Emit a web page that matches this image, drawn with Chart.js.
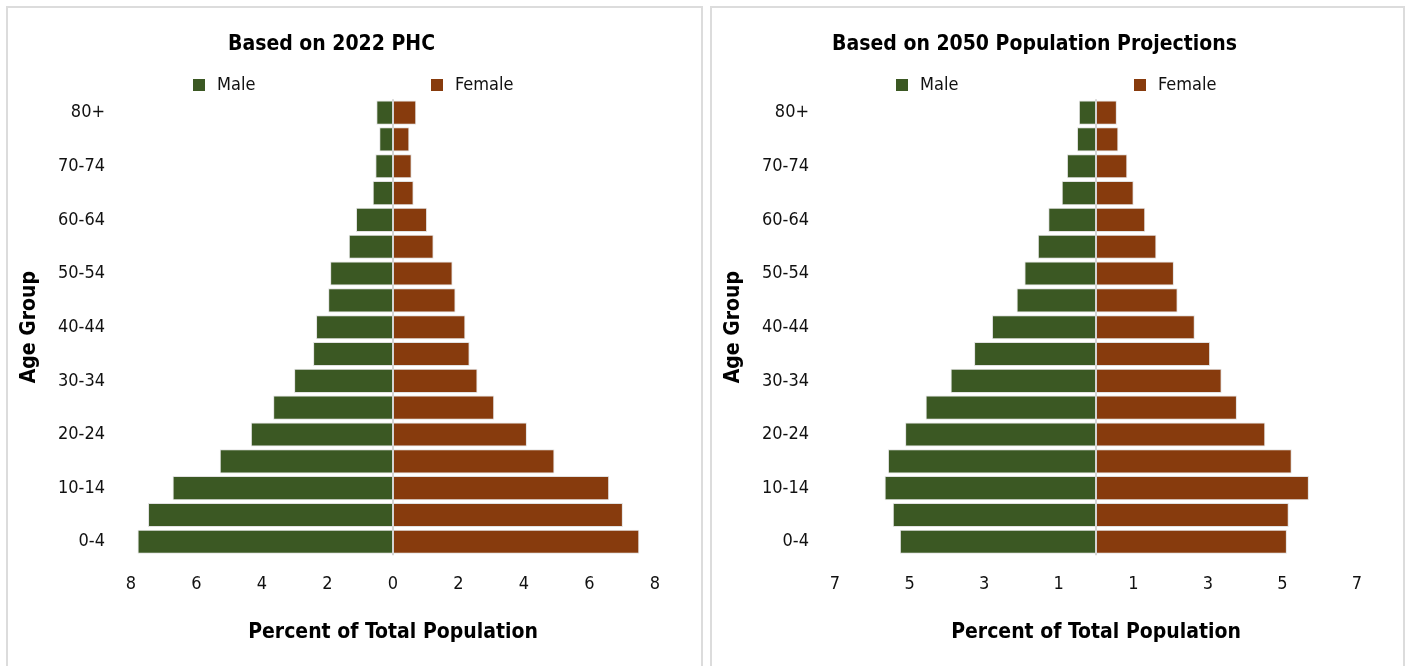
<!DOCTYPE html>
<html lang="en">

<head>
    <meta charset="UTF-8">
    <title>Population Pyramids</title>
    <script src="https://cdn.jsdelivr.net/npm/chart.js"></script>
    <style>
        body { margin: 0; width: 1406px; height: 666px; overflow: hidden; background: #fff; position: relative; }
        .panel { position: absolute; top: 6px; height: 700px; border: 2px solid #dcdcdc; box-sizing: border-box; }
        .panel canvas { display: block; }
    </style>
</head>

<body>

    <div class="panel" style="left: 6px; width: 697px;">
        <canvas id="chart2022" width="693" height="658"></canvas>
    </div>
    <div class="panel" style="left: 710px; width: 695px;">
        <canvas id="chart2050" width="691" height="658"></canvas>
    </div>

    <script>
        // age groups, bottom to top
        const ageGroups = ['0-4', '5-9', '10-14', '15-19', '20-24', '25-29', '30-34', '35-39', '40-44',
            '45-49', '50-54', '55-59', '60-64', '65-69', '70-74', '75-79', '80+'];

        // percent of total population, 2022 PHC
        const male2022 = [7.80, 7.48, 6.73, 5.29, 4.34, 3.66, 3.02, 2.44, 2.35, 1.98, 1.92, 1.35, 1.13, 0.62, 0.54, 0.42, 0.51];
        const female2022 = [7.52, 7.02, 6.60, 4.93, 4.09, 3.09, 2.58, 2.34, 2.21, 1.91, 1.82, 1.24, 1.04, 0.63, 0.57, 0.50, 0.71];

        // percent of total population, 2050 projections
        const male2050 = [5.26, 5.45, 5.67, 5.58, 5.12, 4.57, 3.90, 3.27, 2.79, 2.13, 1.92, 1.56, 1.28, 0.92, 0.78, 0.51, 0.46];
        const female2050 = [5.12, 5.17, 5.71, 5.25, 4.54, 3.78, 3.37, 3.06, 2.65, 2.19, 2.09, 1.62, 1.32, 1.01, 0.84, 0.60, 0.56];

        const seriesNames = ['Male', 'Female'];
        const seriesColors = ['#3B5823', '#873B0D'];

        const FONT = "'Liberation Sans Narrow', 'Arial Narrow', 'DejaVu Sans Condensed', 'Liberation Sans', Arial, sans-serif";
        Chart.defaults.font.family = FONT;
        Chart.defaults.color = '#111';

        // light line at zero + spread-out legend
        const pyramidExtras = {
            id: 'pyramidExtras',
            afterDatasetsDraw(chart) {
                const { ctx, chartArea, scales } = chart;
                const x0 = scales.x.getPixelForValue(0);
                ctx.save();
                ctx.strokeStyle = '#d4d4d4';
                ctx.lineWidth = 2;
                ctx.beginPath();
                ctx.moveTo(x0, chartArea.top);
                ctx.lineTo(x0, chartArea.bottom);
                ctx.stroke();
                ctx.restore();
            },
            afterDraw(chart) {
                const { ctx, width, chartArea } = chart;
                const y = chartArea.top - 14;
                const spots = [0.267, 0.611];
                ctx.save();
                ctx.font = '18px ' + FONT;
                ctx.textBaseline = 'middle';
                seriesNames.forEach((name, i) => {
                    const bx = Math.round(width * spots[i]);
                    ctx.fillStyle = seriesColors[i];
                    ctx.fillRect(bx, Math.round(y - 6), 12, 12);
                    ctx.fillStyle = '#111';
                    ctx.fillText(name, bx + 24, y);
                });
                ctx.restore();
            }
        };

        function makePyramid(canvasId, titleText, male, female, limit) {
            return new Chart(document.getElementById(canvasId), {
                type: 'bar',
                data: {
                    labels: ageGroups,
                    datasets: [{
                        label: seriesNames[0],
                        data: male.map(v => -v),
                        backgroundColor: seriesColors[0],
                        borderColor: '#e2e2e2',
                        borderWidth: 1
                    }, {
                        label: seriesNames[1],
                        data: female,
                        backgroundColor: seriesColors[1],
                        borderColor: '#e2e2e2',
                        borderWidth: 1
                    }]
                },
                options: {
                    indexAxis: 'y',
                    responsive: false,
                    animation: false,
                    layout: { padding: { left: 0, right: 46, top: 0, bottom: 17 } },
                    datasets: { bar: { categoryPercentage: 1, barPercentage: 0.9 } },
                    plugins: {
                        legend: { display: false },
                        tooltip: { enabled: false },
                        title: {
                            display: true,
                            text: titleText,
                            color: '#000',
                            font: { size: 21, weight: 'bold' },
                            padding: { top: 24, bottom: 42 }
                        }
                    },
                    scales: {
                        x: {
                            stacked: true,
                            min: -limit,
                            max: limit,
                            ticks: {
                                stepSize: 2,
                                padding: 18,
                                font: { size: 18 },
                                callback: v => Math.abs(v)
                            },
                            grid: { display: false, drawTicks: false },
                            border: { display: false },
                            title: {
                                display: true,
                                text: 'Percent of Total Population',
                                color: '#000',
                                font: { size: 21, weight: 'bold' },
                                padding: { top: 7, bottom: 4 }
                            }
                        },
                        y: {
                            stacked: true,
                            reverse: true,
                            ticks: {
                                autoSkip: false,
                                padding: 26,
                                font: { size: 18 },
                                callback: function (v, i) { return i % 2 === 0 ? this.getLabelForValue(v) : ''; }
                            },
                            grid: { display: false, drawTicks: false },
                            border: { display: false },
                            title: {
                                display: true,
                                text: 'Age Group',
                                color: '#000',
                                font: { size: 21, weight: 'bold' },
                                padding: { top: 9, bottom: 0 }
                            },
                            afterFit(scale) { scale.width = 123; }
                        }
                    }
                },
                plugins: [pyramidExtras]
            });
        }

        makePyramid('chart2022', 'Based on 2022 PHC', male2022, female2022, 8);
        makePyramid('chart2050', 'Based on 2050 Population Projections', male2050, female2050, 7);
    </script>

</body>

</html>
